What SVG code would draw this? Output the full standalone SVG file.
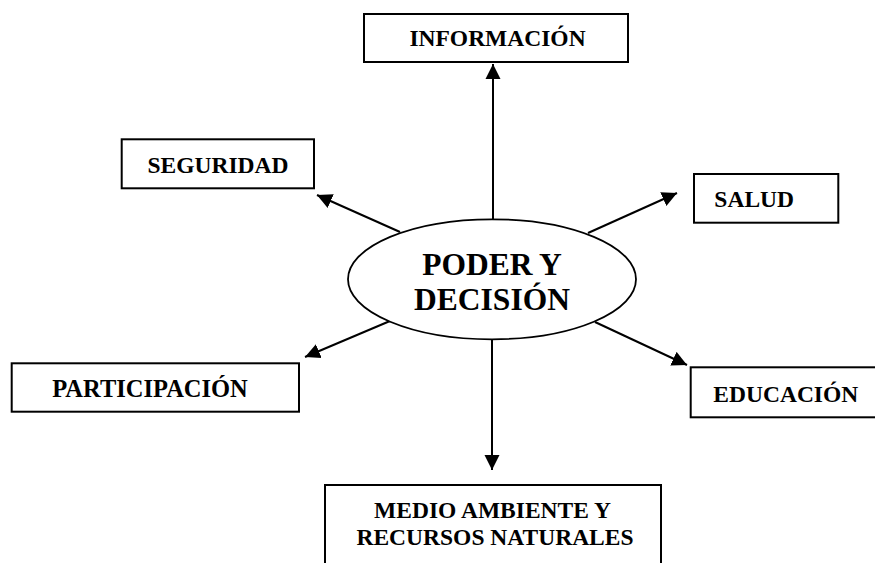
<svg xmlns="http://www.w3.org/2000/svg" width="875" height="563" viewBox="0 0 875 563">
  <style>
    .box { fill: #ffffff; stroke: #000000; stroke-width: 2; }
    .lbl { font-family: "Liberation Serif", "Times New Roman", serif; font-weight: bold; font-size: 23.5px; fill: #000000; text-anchor: middle; }
    .big { font-size: 31.5px; }
    .conn { stroke: #000000; stroke-width: 2; fill: none; marker-end: url(#arrow); }
  </style>
  <defs>
    <marker id="arrow" markerUnits="userSpaceOnUse" markerWidth="16" markerHeight="16" viewBox="0 0 16 16" refX="15" refY="8" orient="auto">
      <path d="M0,0.5 L15,8 L0,15.5 Z" fill="#000000"/>
    </marker>
  </defs>
  <rect width="875" height="563" fill="#ffffff"/>

  <g id="connectors">
    <line class="conn" x1="493" y1="219" x2="493" y2="64"/>
    <line class="conn" x1="400" y1="232" x2="317" y2="195"/>
    <line class="conn" x1="588" y1="233" x2="677" y2="193"/>
    <line class="conn" x1="390" y1="321" x2="305" y2="357"/>
    <line class="conn" x1="595" y1="322" x2="687" y2="365"/>
    <line class="conn" x1="492" y1="339" x2="492" y2="470"/>
  </g>

  <g id="center">
    <ellipse cx="492" cy="279.3" rx="144" ry="60" fill="#ffffff" stroke="#000000" stroke-width="1.8"/>
    <text class="lbl big" x="492" y="275">PODER Y</text>
    <text class="lbl big" x="492" y="310">DECISIÓN</text>
  </g>

  <g id="informacion">
    <rect class="box" x="364" y="14" width="264" height="48"/>
    <text class="lbl" x="497.5" y="45.5">INFORMACIÓN</text>
  </g>

  <g id="seguridad">
    <rect class="box" x="121.7" y="139.3" width="192.3" height="49"/>
    <text class="lbl" x="218" y="173.3">SEGURIDAD</text>
  </g>

  <g id="salud">
    <rect class="box" x="694" y="174" width="144.3" height="48.7"/>
    <text class="lbl" x="754.2" y="206.7">SALUD</text>
  </g>

  <g id="participacion">
    <rect class="box" x="11.7" y="363.3" width="287.3" height="48.4"/>
    <text class="lbl" x="150" y="396.7" style="font-size:24.5px">PARTICIPACIÓN</text>
  </g>

  <g id="educacion">
    <rect class="box" x="690.7" y="367.3" width="186" height="50"/>
    <text class="lbl" x="785.8" y="401.7">EDUCACIÓN</text>
  </g>

  <g id="medio">
    <rect class="box" x="325" y="485" width="336" height="90"/>
    <text class="lbl" x="492.5" y="518.3">MEDIO AMBIENTE Y</text>
    <text class="lbl" x="495" y="545">RECURSOS NATURALES</text>
  </g>
</svg>
